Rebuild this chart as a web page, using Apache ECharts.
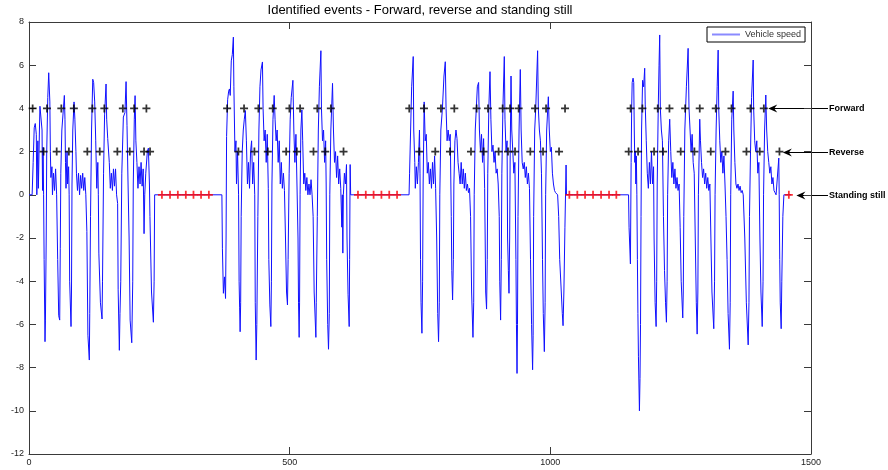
<!DOCTYPE html>
<html>
<head>
<meta charset="utf-8">
<script src="https://cdn.jsdelivr.net/npm/echarts@6/dist/echarts.min.js"></script>
<style>html,body{margin:0;padding:0;background:#fff}#c{width:888px;height:470px}</style>
</head>
<body>
<div id="c"></div>
<script>
// ---- Data ----
const titleText = 'Identified events - Forward, reverse and standing still';
const seriesName = 'Vehicle speed';
const xTicks = [0, 500, 1000, 1500];
const yTicks = [-12, -10, -8, -6, -4, -2, 0, 2, 4, 6, 8];

const speedBurst1 = [[0,0],[6,0],[8,1.5],[10,3.1],[12,3.3],[14,2.8],[15,0],[17,2.5],[18,0.3],[20,3],[21,4.1],[23,4.1],[25,3.0],[26,0.2],[27,2.2],[28,0],[29,-3],[30.7,-6.8],[31.5,-5.8],[33,-2],[34,2],[36,4.5],[37.8,5.65],[40,4.3],[41,2.0],[42,0.8],[44,1.3],[45,0],[47,1.0],[49,0.2],[51,1.2],[53,0],[55,-3],[57,-5.6],[58.9,-5.8],[60,-2.5],[61,1],[63,3],[66,4],[67.8,4.6],[69,3.5],[70,1.5],[71,0.3],[73,2],[74,0.5],[76,1.3],[77,0],[78,-4],[80.6,-6.1],[81.5,-4.5],[82.5,0.5],[84,3],[86.4,4.3],[88,3.5],[90,2],[91,1],[93,0.2],[95,1],[97,0],[99,0.9],[101,0.3],[103,1.0],[105,0.2],[107,0.8],[109,0],[111,-1.7],[113,-6.5],[115.7,-7.65],[116.5,-5.5],[118,-1],[120,3],[122.3,5.35],[124,5.2],[126,4.3],[128,2.5],[130,0.3],[132,1.5],[133,0],[134,-2.7],[137,-5],[140.1,-5.75],[141,-4],[143,1],[145,3.7],[147.8,5.13],[149,3.5],[151,2.6],[154,1.5],[156,0.3],[158,1],[160,0.2],[162,1.2],[164,0.4],[166,1.2],[168,0],[170,-0.4],[171,-4.4],[173.3,-7.2],[174.5,-5.5],[176,-4],[178,1],[181,3.6],[184,3.8],[186.2,5.24],[188,3.2],[190,0.5],[192,-2],[194,-5.8],[197.1,-6.85],[199,-4],[200,0.5],[202,3.5],[203.5,4.59],[205,2.5],[207,1.5],[209,0.3],[211,1.3],[213,0.5],[215,1.5],[217,0.4],[219,1.2],[220.7,-1.8],[222,0],[224,1],[227,2],[229,2.16],[231,0.5],[232,-1],[235,-4.5],[238.6,-5.9],[240,-4],[241,0],[370,0]];

const speedBurst2 = [[371,-2.5],[372.9,-4.56],[375,-3.8],[377,-4.8],[378,-2],[379,2.7],[381,4.4],[383,4.8],[384.5,4.9],[386,4.6],[388,6.2],[390,6.5],[392,7.3],[393,5],[395,2],[397,2.5],[398,0.5],[400,2],[402,0],[403,-4],[404,-5.2],[405,-6.34],[406,-5],[407,-1],[409,2],[411,3],[413,3.5],[415,3.9],[417,2.5],[419,0.5],[421,1.5],[423,0.3],[425,2.0],[427,2.5],[429,0.5],[431,1.5],[433,0],[434,-5],[435.7,-7.65],[437,-6],[439,-1],[441,3],[443,5],[445,5.78],[447.8,6.15],[449,4],[451,2.5],[453,3],[455,1.5],[457,2.8],[459,0.3],[460,-3],[462,-5.1],[463.9,-6.1],[465,-4],[466,0.5],[468,3.5],[470.3,4.6],[472,3.5],[474,2.5],[476,3],[478,1.5],[480,2.5],[482,0.5],[484,1.5],[486,0.3],[488,1],[490,0.2],[492,-2],[494,-4.5],[495.8,-5.1],[497,-3],[499,1],[501,3.5],[503,4.5],[506.2,5.3],[508,3],[510,1.5],[512,2.8],[514,0.5],[516,-2],[517,-5],[518.2,-6.6],[519,-5],[520,0],[521.5,3.0],[523.4,3.93],[525,2.5],[527,0.5],[529,1],[531,0.2],[533,0.8],[535,0],[537,0.5],[539,0],[541,0.7],[543,0],[545,-1],[547,-4.5],[550.3,-6.6],[551,-5],[553,-1],[555,3],[557,5],[559.9,6.67],[561,4],[563,2.5],[565,3],[567,1.5],[569,2.5],[570,0.5],[571,-3],[573,-6],[574.5,-7.15],[576,-5.5],[577,0],[579,3],[582.2,5.16],[584,3],[586,1.5],[588,2],[590,0.8],[592,1.8],[594,0.5],[596,1.2],[598,0.3],[600,-1.5],[601,0],[602,-2.7],[603,0],[605,1],[607,0.5],[609,1.4],[610,-2],[612,-4.6],[614.2,-6.1],[615,-3],[616,1.4],[617,0],[729,0]];

const speedBurst3 = [[730,1],[732,3],[734,5],[737,6.4],[738,3],[740,1.5],[741,0.3],[743,1.3],[745,0.5],[747,1.5],[749,3],[750,1],[751,-3],[752,-5],[753.7,-6.41],[755,-4],[756,0.5],[758,4.3],[760,2.5],[762,2.8],[764,1],[766,1.5],[768,0.5],[770,1.2],[772,0.3],[774,1.5],[776,0.5],[778,1.8],[780,0.3],[782,-2],[784,-5.5],[785.6,-6.8],[787,-5],[788,0],[790,3],[793,4],[796,5.5],[798.5,6.16],[800,4],[802,2.5],[804,3],[806,2.5],[808,2.8],[810,-1],[811,-3.5],[812.5,-4.87],[814,-3],[815,0.5],[817,2.5],[819,3.0],[821,2.6],[823,1.5],[825,1],[827,0.5],[829,1.5],[831,0.5],[833,1.2],[835,0.3],[837,1],[839,0.2],[841,0.5],[843,0.1],[845,0.3],[847,-1],[849,-4.5],[851.6,-6.6],[853,-5],[854,0],[856,3],[858,4],[860,5],[862.4,5.2],[864,3],[866,2],[868,2.8],[870,1.5],[872,2.6],[874,0.3],[875,-2],[876,-4.5],[877.7,-5.29],[879,-3],[880,1],[882,4],[884.3,5.7],[886,3.5],[888,2],[890,2.3],[892,1.5],[894,2],[896,1],[898,1.2],[900,0.5],[902,-1],[903,-4],[904.6,-5.8],[906,-3],[907,1],[909,4],[911.7,6.4],[913,3.5],[915,2],[917,2.5],[918,-2],[919.5,-3.5],[920.7,-4.56],[922,-2],[923,2],[924.6,5.5],[926,3],[928,2],[930,1],[932,1.5],[934,-3],[935,-6],[936.1,-8.27],[937,-6],[938,-1],[940,3],[942.4,5.8],[944,3],[946,1.5],[948,1.2],[950,1.5],[952,0.8],[954,1.3],[956,0.5],[958,1],[960,0.3],[962,-3],[964,-6],[966,-8.1],[967,-6.5],[968,-1],[970,3],[972,4],[974,5.5],[975.6,6.67],[977,4],[979,3],[981,2.5],[983,1],[985,-3],[986.5,-5.5],[988.5,-7.26],[990,-5],[991,0],[993,3],[996.2,4.54],[998,3],[1000,2],[1002,2.2],[1004,1],[1006,0.5],[1008,0.2],[1010,0.1],[1012,0.1],[1014,0],[1016,-1],[1018,-3],[1021,-4.5],[1023,-5.5],[1024.4,-6.06],[1026,-4.5],[1028,-1.5],[1030.2,1.38],[1031,0],[1150,0]];

const speedBurst4 = [[1151,-1.5],[1153.6,-3.2],[1155,1.5],[1156,4],[1157,5.2],[1158.7,5.4],[1160,5.2],[1161,3],[1162,1.5],[1163,2],[1164,0.5],[1165,1.8],[1166,0],[1167,-3],[1168,-5.5],[1169,-7.5],[1170.9,-10],[1172,-8.5],[1173,-6],[1174,-1],[1175,3],[1177,5.3],[1179,5],[1181,5.86],[1182,4.2],[1184,2.5],[1186,1],[1188,0.3],[1190,1.5],[1192,0.5],[1194,2],[1196,0.5],[1198,1.3],[1199,-2],[1201,-5],[1202.9,-6.1],[1204,-4],[1205,0.5],[1207,4],[1208.5,6],[1209.8,7.4],[1211,4],[1213,3],[1215,2.5],[1217,-1],[1219,-3.5],[1221,-5],[1222.7,-5.9],[1224,-4],[1225,0],[1227,2.5],[1229,3.5],[1231,2],[1233,0.8],[1235,1.5],[1237,0.5],[1239,1.2],[1241,0.3],[1243,0.8],[1245,0.2],[1247,0.5],[1249,-1.5],[1251,-4],[1254,-5.7],[1255,-4.5],[1256,-1],[1258,3],[1261,5],[1264.3,6.78],[1266,4],[1268,3],[1270,2],[1272,2.8],[1274,1.5],[1276,1],[1278,-2],[1280,-5],[1281.6,-6.45],[1283,-4.5],[1284,0],[1286.6,3.5],[1288,2.5],[1290,1.5],[1292,0.8],[1294,1.2],[1296,0.5],[1298,1],[1300,0.3],[1302,0.8],[1304,0.2],[1306,0.5],[1308,-2],[1310,-4.5],[1313.5,-6.2],[1315,-4],[1316,0],[1318,3],[1320,5],[1321.9,6.7],[1323,4],[1325,2.5],[1327,1.5],[1329,2],[1331,1],[1333,1.8],[1335,0.5],[1337,-1],[1339,-3],[1341,-5.5],[1343.6,-7.15],[1345,-5],[1346,0],[1348,3.5],[1350.7,4.8],[1352,3],[1354,1.5],[1356,0.5],[1358,0.3],[1360,0.5],[1362,0.2],[1364,0.4],[1366,0.1],[1368,0.2],[1370,0],[1373,-2],[1376,-5],[1379.5,-6.95],[1381,-5],[1382,-1],[1384,2],[1386,4.5],[1389.1,6.24],[1390,4],[1392,2.5],[1394,2],[1396,2.5],[1398,1],[1400,1.5],[1402,-2],[1404,-4.5],[1406.4,-6.1],[1408,-4],[1409,0],[1411,3],[1413.3,4.62],[1415,3],[1417,2],[1419,1.5],[1421,1],[1423,1.3],[1425,0.5],[1427,0.8],[1429,0.2],[1431,0.1],[1433,0],[1436,0],[1438.2,1.7],[1439,0],[1440,-3],[1441,-5],[1442.8,-6.2],[1444,-4],[1446,-1],[1448,0],[1462,0]];

// Identified event markers (x positions), level of each event row
const forwardX = [7,34.5,62,86,121.5,144.5,180,201.6,225.2, 380,412.5,440,467.5,499.5,520,553,579, 729.4,757.6,790.2,815.8,858.6,880.4,908.5,922.7,939.2,970.7,991.8,1028.2, 1154,1176.6,1206,1228.5,1258.6,1286.6,1317.3,1347.5,1383.9,1409.5];
const reverseX = [28,53.1,76.5,111.9,135.7,169.5,193.3,220.7,232.2, 401.7,432.4,458.1,493.3,513.8,545.7,568.2,603.3, 748.6,779.3,807.5,847.8,872,900.8,918.8,932.3,961.6,986,1016.7, 1150.3,1168.3,1199,1216.3,1250.1,1276.4,1307.7,1335.9,1376.2,1401.7,1439.5];
const standingX = [255,270.5,285.5,300.8,315.5,330,345, 631,646,661,676,691,706, 1036.5,1051.8,1066.6,1081.9,1097.3,1112.6,1126.6, 1457.5];
const forwardLevel = 4, reverseLevel = 2, standingLevel = 0;

// Annotations: label, level, arrow-tip x (data units)
const annLabels = ['Forward', 'Reverse', 'Standing still'];
const annLevels = [4, 2, 0];
const annTipX = [1418, 1446, 1472];

// ---- Chart ----
const speed = speedBurst1.concat(speedBurst2, speedBurst3, speedBurst4);
const plus = 'path://M3.9,0H6.1V3.9H10V6.1H6.1V10H3.9V6.1H0V3.9H3.9Z';
const FONT = 'Arial, "Liberation Sans", sans-serif';
const grid = {left: 29, right: 77, top: 22, bottom: 16};
const chart = echarts.init(document.getElementById('c'), null, {renderer: 'canvas'});

const axisCommon = {
  type: 'value', splitLine: {show: false},
  axisLine: {show: true, onZero: false, lineStyle: {color: '#3a3a3a', width: 1}},
  axisTick: {show: true, inside: true, length: 7, lineStyle: {color: '#3a3a3a'}}
};

chart.setOption({
  animation: false,
  backgroundColor: '#fff',
  grid: Object.assign({show: false}, grid),
  legend: {
    show: true, left: 707, top: 27,
    data: [{name: seriesName, icon: 'rect', itemStyle: {color: '#8a8aff'}}],
    borderColor: '#000', borderWidth: 1, borderRadius: 0, padding: [3, 4, 3, 5],
    itemWidth: 28, itemHeight: 2, itemGap: 0,
    textStyle: {fontSize: 9, color: '#333', fontFamily: FONT, padding: [1, 0, 0, 0]}
  },
  xAxis: [
    Object.assign({}, axisCommon, {position: 'bottom', min: xTicks[0], max: xTicks[xTicks.length-1], interval: 500,
      axisLabel: {fontSize: 9, color: '#222', margin: 4, fontFamily: FONT, formatter: v => String(v)}}),
    Object.assign({}, axisCommon, {position: 'top', min: xTicks[0], max: xTicks[xTicks.length-1], interval: 500,
      axisLabel: {show: false}})
  ],
  yAxis: [
    Object.assign({}, axisCommon, {position: 'left', min: yTicks[0], max: yTicks[yTicks.length-1], interval: 2,
      axisLabel: {fontSize: 9, color: '#222', margin: 5, fontFamily: FONT, formatter: v => String(v)}}),
    Object.assign({}, axisCommon, {position: 'right', min: yTicks[0], max: yTicks[yTicks.length-1], interval: 2,
      axisLabel: {show: false}})
  ],
  series: [
    {name: seriesName, type: 'line', data: speed, symbol: 'none', showSymbol: false, clip: true,
      color: '#0000ff', lineStyle: {color: '#1010ff', width: 1}, z: 2},
    {name: 'Forward', type: 'scatter', data: forwardX.map(x => [x, forwardLevel]), symbol: plus, symbolSize: 8,
      itemStyle: {color: '#000'}, z: 5},
    {name: 'Reverse', type: 'scatter', data: reverseX.map(x => [x, reverseLevel]), symbol: plus, symbolSize: 8,
      itemStyle: {color: '#000'}, z: 5},
    {name: 'Standing still', type: 'scatter', data: standingX.map(x => [x, standingLevel]), symbol: plus, symbolSize: 8,
      itemStyle: {color: '#ff0000'}, z: 5}
  ]
});

// Title + annotation arrows (positions derived from the axes)
const gfx = [];
const plotLeft = chart.convertToPixel({xAxisIndex: 0}, xTicks[0]);
const plotRight = chart.convertToPixel({xAxisIndex: 0}, xTicks[xTicks.length-1]);
gfx.push({type: 'text', style: {text: titleText, x: (plotLeft + plotRight) / 2, y: 10, align: 'center', verticalAlign: 'middle',
  fontSize: 13, fontFamily: FONT, fill: '#000'}});
const textX = plotRight + 18;
annLabels.forEach((lab, i) => {
  const p = chart.convertToPixel({xAxisIndex: 0, yAxisIndex: 0}, [annTipX[i], annLevels[i]]);
  const tx = p[0], ty = Math.round(p[1]) + 0.5;
  gfx.push({type: 'line', shape: {x1: tx + 4, y1: ty, x2: textX - 1, y2: ty}, style: {stroke: '#000', lineWidth: 1}});
  gfx.push({type: 'polygon', shape: {points: [[tx, ty], [tx + 9, ty - 4], [tx + 6, ty], [tx + 9, ty + 4]]}, style: {fill: '#000'}});
  gfx.push({type: 'text', style: {text: lab, x: textX, y: ty, align: 'left', verticalAlign: 'middle',
    fontSize: 9, fontWeight: 'bold', fontFamily: FONT, fill: '#000'}});
});
chart.setOption({graphic: gfx});
</script>
</body>
</html>
